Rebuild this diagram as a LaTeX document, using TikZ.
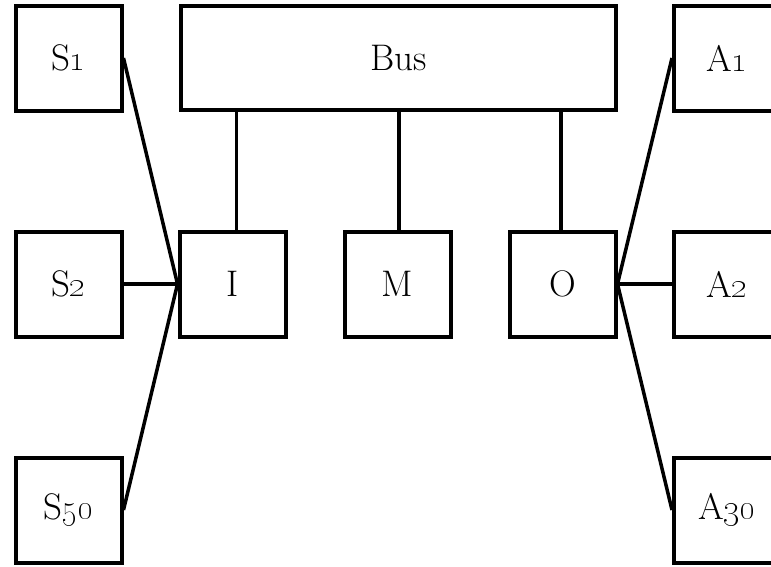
\documentclass[tikz,border=0pt]{standalone}
\begin{document}
\begin{tikzpicture}[x=1pt,y=-1pt,
  box/.style={draw,line width=4pt,minimum width=106pt,minimum height=105pt,inner sep=0pt,font=\fontsize{37}{40}\selectfont},
  wire/.style={line width=3.5pt}]
\clip (0,0) rectangle (771,566);
\useasboundingbox (0,0) rectangle (771,566);
\node[box] (s1) at (68.5,58) {S\oldstylenums{1}};
\node[box] (s2) at (68.5,284) {S\oldstylenums{2}};
\node[box] (s50) at (68.5,510) {S\oldstylenums{50}};
\node[box,minimum width=435pt,minimum height=104pt] (bus) at (398.5,58) {Bus};
\node[box] (i) at (232.5,284) {I};
\node[box] (m) at (397.5,284) {M};
\node[box] (o) at (562.5,284) {O};
\node[box] (a1) at (727,58) {A\oldstylenums{1}};
\node[box] (a2) at (727,284) {A\oldstylenums{2}};
\node[box] (a30) at (727,510) {A\oldstylenums{30}};
\draw[wire] (s1.east) -- (i.west);
\draw[wire] (s2.east) -- (i.west);
\draw[wire] (s50.east) -- (i.west);
\draw[wire] (a1.west) -- (o.east);
\draw[wire] (a2.west) -- (o.east);
\draw[wire] (a30.west) -- (o.east);
\draw[wire] ([xshift=4pt]i.north) -- ([xshift=4pt]i.north |- bus.south);
\draw[wire] ([xshift=1.5pt]m.north) -- ([xshift=1.5pt]m.north |- bus.south);
\draw[wire] ([xshift=-1.5pt]o.north) -- ([xshift=-1.5pt]o.north |- bus.south);
\end{tikzpicture}
\end{document}
